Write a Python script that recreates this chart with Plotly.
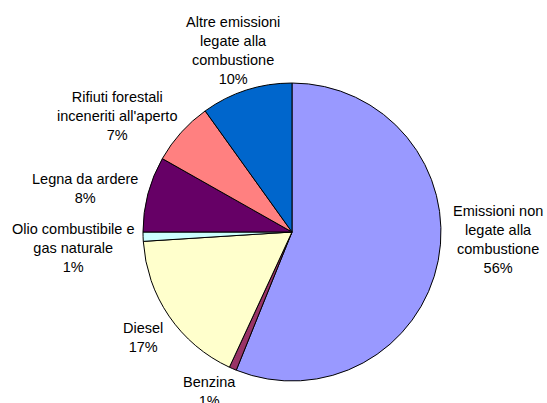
import plotly.graph_objects as go

labels = [
    "Emissioni non<br>legate alla<br>combustione",
    "Benzina",
    "Diesel",
    "Olio combustibile e<br>gas naturale",
    "Legna da ardere",
    "Rifiuti forestali<br>inceneriti all'aperto",
    "Altre emissioni<br>legate alla<br>combustione",
]
values = [56.1, 0.8, 17.1, 1.0, 8.2, 6.9, 9.9]
colors = ["#9999FF", "#993366", "#FFFFCC", "#CCFFFF", "#660066", "#FF8080", "#0066CC"]

# label block centres in pixels (text placement only)
label_pos_px = [(498, 240), (209, 391), (143, 337), (73, 248), (84.5, 188.5), (117, 115.5), (233, 50)]

W, H = 547, 403
FONT = "Liberation Sans, Arial, sans-serif"

fig = go.Figure(go.Pie(
    labels=labels,
    values=values,
    sort=False,
    direction="clockwise",
    rotation=0,
    marker=dict(colors=colors, line=dict(color="black", width=1)),
    textinfo="none",
    hoverinfo="label+percent",
    showlegend=False,
    domain=dict(x=[0.2, 0.8676], y=[0.0546, 0.794]),
))

total = sum(values)
for lab, v, (px, py) in zip(labels, values, label_pos_px):
    fig.add_annotation(
        x=px / W, y=1 - py / H, xref="paper", yref="paper",
        text=f"{lab}<br>{round(v / total * 100)}%",
        showarrow=False, xanchor="center", yanchor="middle", align="center",
        font=dict(family=FONT, size=14.5, color="black"),
    )

fig.update_layout(
    width=W, height=H,
    margin=dict(l=0, r=0, t=0, b=0),
    paper_bgcolor="white",
    plot_bgcolor="white",
)

fig.write_html("out.html")
